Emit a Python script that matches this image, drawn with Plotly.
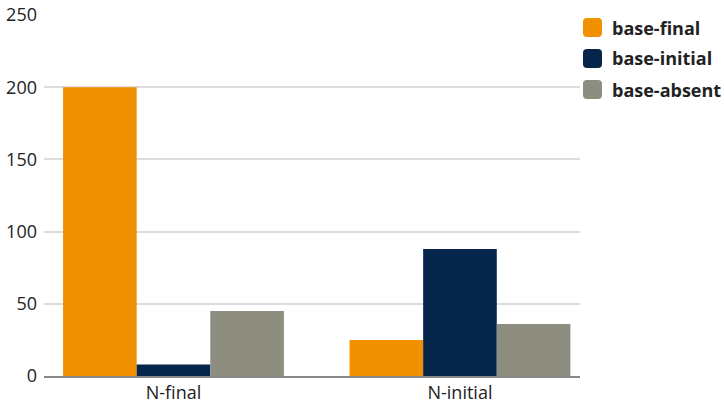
import plotly.graph_objects as go

categories = ["N-final", "N-initial"]
series_names = ["base-final", "base-initial", "base-absent"]
base_final = [200, 25]
base_initial = [8, 88]
base_absent = [45, 36]
y_ticks = [0, 50, 100, 150, 200, 250]

colors = ["#F29100", "#05254B", "#8E8E80"]
font_family = "Open Sans, Noto Sans, sans-serif"

W, H = 724, 404
ml, mr, mt, mb = 44, 144, 15, 28
pw, ph = W - ml - mr, H - mt - mb


def px_x(x):
    return (x - ml) / pw


def px_y(y):
    return 1 - (y - mt) / ph


def rounded_square(x0, y0, size, r):
    """Rounded-rectangle path given pixel corner, converted to paper coordinates."""
    x1, y1 = x0 + size, y0 + size
    pts = [("M", x0 + r, y0), ("L", x1 - r, y0), ("Q", x1, y0, x1, y0 + r),
           ("L", x1, y1 - r), ("Q", x1, y1, x1 - r, y1), ("L", x0 + r, y1),
           ("Q", x0, y1, x0, y1 - r), ("L", x0, y0 + r), ("Q", x0, y0, x0 + r, y0)]
    parts = []
    for p in pts:
        cmd, nums = p[0], p[1:]
        xy = [f"{px_x(nums[i]):.5f},{px_y(nums[i + 1]):.5f}" for i in range(0, len(nums), 2)]
        parts.append(cmd + " ".join(xy))
    return " ".join(parts) + " Z"


fig = go.Figure()
for name, vals, col in zip(series_names, [base_final, base_initial, base_absent], colors):
    fig.add_trace(go.Bar(x=categories, y=vals, name=name, marker_color=col,
                         marker_line_width=0, showlegend=False))

# Legend: rounded swatches with bold labels
swatch = 19
for i, (name, col) in enumerate(zip(series_names, colors)):
    cy = 27.5 + i * 31
    fig.add_shape(type="path", path=rounded_square(583, cy - swatch / 2, swatch, 4),
                  xref="paper", yref="paper", fillcolor=col, line_width=0)
    fig.add_annotation(text=f"<b>{name}</b>", x=px_x(610), y=px_y(cy),
                       xref="paper", yref="paper", xanchor="left", yanchor="middle",
                       showarrow=False,
                       font=dict(size=18, color="#222222", family=font_family))

fig.update_layout(
    width=W, height=H,
    margin=dict(l=ml, r=mr, t=mt, b=mb, pad=0, autoexpand=False),
    paper_bgcolor="white", plot_bgcolor="white",
    barmode="group", bargap=0.229, bargroupgap=0,
    font=dict(family=font_family, size=18, color="#222222"),
    xaxis=dict(range=[-0.452, 1.419], showgrid=False, ticks="", showline=True,
               linecolor="#888888", linewidth=2, tickfont=dict(size=18),
               automargin=False, ticklabelstandoff=-1),
    yaxis=dict(range=[0, 250], tickvals=y_ticks, showgrid=True, gridcolor="#dcdcdc",
               gridwidth=1.5, zeroline=False, showline=False, ticks="",
               ticklabelstandoff=6, tickfont=dict(size=18), automargin=False),
)

fig.write_html("out.html")
